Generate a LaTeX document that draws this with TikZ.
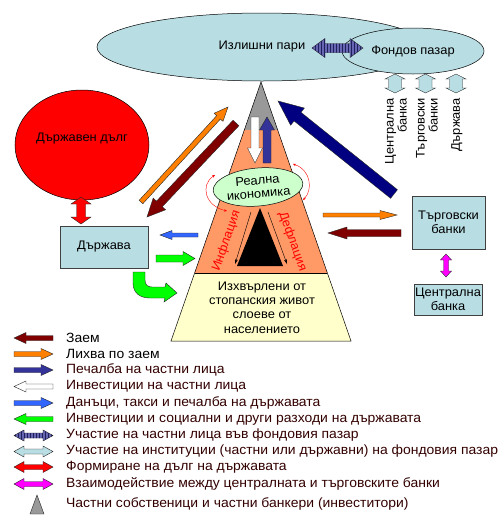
\documentclass[tikz,border=0pt]{standalone}
\usepackage{fontspec}
\setmainfont{Liberation Sans}[FakeStretch=1.04]
\usetikzlibrary{calc,shapes.geometric,patterns,arrows.meta}
\definecolor{aqua}{HTML}{B8DDE3}
\definecolor{salmon}{HTML}{FF9966}
\definecolor{cream}{HTML}{FFFFCC}
\definecolor{pgrey}{HTML}{999999}
\definecolor{mint}{HTML}{CCFFCC}
\definecolor{maroon}{HTML}{800000}
\definecolor{orng}{HTML}{FF8000}
\definecolor{indig}{HTML}{333399}
\definecolor{navyb}{HTML}{000080}
\definecolor{royal}{HTML}{3366FF}
\definecolor{lime}{HTML}{00FF00}
\definecolor{magen}{HTML}{FF00FF}
\definecolor{legtext}{HTML}{330000}
\newcommand{\sarr}[6]{%
  \coordinate (hb) at ($(#3)!#6!(#2)$);
  \path[arr,#1] ($(#2)!#4!90:(#3)$) -- ($(hb)!#4!90:(#3)$) -- ($(hb)!#5!90:(#3)$) -- (#3)
    -- ($(hb)!#5!-90:(#3)$) -- ($(hb)!#4!-90:(#3)$) -- ($(#2)!#4!-90:(#3)$) -- cycle;}
\newcommand{\darr}[6]{%
  \coordinate (ha) at ($(#2)!#6!(#3)$);
  \coordinate (hb) at ($(#3)!#6!(#2)$);
  \path[arr,#1] (#2) -- ($(ha)!#5!90:(#3)$) -- ($(ha)!#4!90:(#3)$) -- ($(hb)!#4!90:(#3)$)
    -- ($(hb)!#5!90:(#3)$) -- (#3) -- ($(hb)!#5!-90:(#3)$) -- ($(hb)!#4!-90:(#3)$)
    -- ($(ha)!#4!-90:(#3)$) -- ($(ha)!#5!-90:(#3)$) -- cycle;}
\begin{document}
\begin{tikzpicture}[x=1pt,y=-1pt,font=\fontsize{12.4}{14.3}\selectfont,
  arr/.style={draw=black!85,line width=0.4pt,line join=miter},
  hatch/.style={fill=indig!75,postaction={pattern=vertical lines,pattern color=indig!60!black}},
  fmaroon/.style={fill=maroon}, forng/.style={fill=orng}, findig/.style={fill=indig},
  fwhite/.style={fill=white}, froyal/.style={fill=royal}, flime/.style={fill=lime},
  faqua/.style={fill=aqua}, fred/.style={fill=red}, fmagen/.style={fill=magen},
  boxa/.style={draw=black!75,line width=0.5pt,fill=aqua,align=center,inner sep=1pt},
  ell/.style={ellipse,draw=black,line width=0.5pt,inner sep=0pt,align=center},
  vlab/.style={rotate=90,anchor=east,align=right,inner sep=0pt,font=\fontsize{12.4}{13}\selectfont},
  thinarr/.style={-{Stealth[length=5pt,width=3pt]},line width=0.4pt},
  redarc/.style={{Stealth[length=3pt,width=2.5pt]}-{Stealth[length=3pt,width=2.5pt]},red,line width=0.4pt},
  legt/.style={anchor=west,inner sep=0pt,text=legtext,font=\fontsize{13.4}{15}\selectfont}]
\useasboundingbox (0,0) rectangle (499,528);
\fill[white] (0,0) rectangle (499,528);

% ellipses at the top
\node[ell,fill=aqua,minimum width=330pt,minimum height=68pt] (money) at (262,47) {Излишни пари};
\node[ell,fill=aqua,minimum width=142pt,minimum height=46pt] (market) at (413,51) {Фондов пазар};
\coordinate (mA) at (312,48); \coordinate (mB) at (363,48);
\darr{hatch}{mA}{mB}{4.5pt}{9.5pt}{13pt}

% three small arrows to the market
\foreach \n/\x in {1/395,2/425.5,3/456}{
  \coordinate (sa\n) at (\x,74); \coordinate (sb\n) at (\x,93);
  \darr{faqua}{sa\n}{sb\n}{6.5pt}{10pt}{5pt}}
\node[vlab] (lcb) at (396,98) {Централна\\банка};
\node[vlab] (ltb) at (427,98) {Търговски\\банки};
\node[vlab] (lst) at (457,98) {Държава};

% pyramid
\coordinate (apex) at (261,82); \coordinate (bl) at (171,341); \coordinate (br) at (351,341);
\coordinate (g1) at ($(apex)!0.1853!(bl)$); \coordinate (g2) at ($(apex)!0.1853!(br)$);
\coordinate (s1) at ($(apex)!0.7375!(bl)$); \coordinate (s2) at ($(apex)!0.7375!(br)$);
\fill[pgrey] (apex) -- (g2) -- (g1) -- cycle;
\fill[salmon] (g1) -- (g2) -- (s2) -- (s1) -- cycle;
\fill[cream] (s1) -- (s2) -- (br) -- (bl) -- cycle;
\draw[line width=0.5pt] (s1) -- (s2);
\draw[line width=0.5pt,line join=miter] (apex) -- (br) -- (bl) -- cycle;
\fill[black] (260,208) -- (283,266) -- (237,266) -- cycle;
\coordinate (ia) at (251,212); \coordinate (ib) at (235,264);
\coordinate (da) at (268,212); \coordinate (db) at (287,264);
\draw[thinarr] (ia) -- (ib);
\draw[thinarr] (da) -- (db);
\node[red,rotate=70.6,inner sep=0pt] (infl) at (226.5,241) {Инфлация};
\node[red,rotate=-70.6,inner sep=0pt] (defl) at (292.5,241.5) {Дефлация};
\node[inner sep=0pt,align=center] (poor) at (262,307.5) {Изхвърлени от\\стопанския живот\\слоеве от\\населението};

% investment arrows in the pyramid
\coordinate (wA) at (255,117); \coordinate (wB) at (255,163);
\sarr{fwhite}{wA}{wB}{4pt}{7.5pt}{15pt}
\coordinate (pA) at (267,163); \coordinate (pB) at (267,117);
\sarr{findig}{pA}{pB}{4pt}{7.5pt}{13pt}

% real economy
\node[ell,fill=mint,rotate=5,minimum width=90pt,minimum height=38pt,font=\fontsize{12.4}{13.5}\selectfont] (real) at (258,187) {Реална\\икономика};
\draw[redarc] (215,175) .. controls (200,185) and (205,206) .. (227,211);
\draw[redarc] (293,164) .. controls (311,170) and (313,190) .. (303,200);

% state side
\node[ell,fill=red,minimum width=134pt,minimum height=110pt] (debt) at (82,145) {};
\node[inner sep=0pt] (debtt) at (82,139) {Държавен дълг};
\node[boxa,minimum width=88pt,minimum height=42pt] (state) at (104,247) {Държава};
\coordinate (rA) at (81,197); \coordinate (rB) at (81,224);
\darr{fred}{rA}{rB}{4.5pt}{10pt}{7pt}
\coordinate (tA) at (198,235); \coordinate (tB) at (160,235);
\sarr{froyal}{tA}{tB}{2pt}{4.5pt}{12pt}
\coordinate (gA) at (156,258.5); \coordinate (gB) at (195,258.5);
\sarr{flime}{gA}{gB}{3.5pt}{7pt}{12pt}
\path[arr,fill=lime] (133,272) -- (133,283) .. controls (133,293) and (140,298) .. (150,298)
  -- (165,298) -- (164,302) -- (177,293) -- (166,283) -- (165,287) -- (152,287)
  .. controls (148,287) and (145,285) .. (145,280) -- (145,272) -- cycle;
\coordinate (oA) at (141,202); \coordinate (oB) at (228,107);
\sarr{forng}{oA}{oB}{2.5pt}{6pt}{14pt}
\coordinate (lA) at (236,123); \coordinate (lB) at (147,217);
\sarr{fmaroon}{lA}{lB}{4pt}{8.5pt}{18pt}

% banks side
\node[boxa,minimum width=73pt,minimum height=53pt] (cbank) at (448.5,222.5) {Търговски\\банки};
\node[boxa,minimum width=64pt,minimum height=31pt] (centr) at (448,299.5) {Централна\\банка};
\coordinate (nA) at (394,194); \coordinate (nB) at (278,101);
\sarr{fill=navyb}{nA}{nB}{5.5pt}{11pt}{25pt}
\coordinate (o2A) at (323,215); \coordinate (o2B) at (397,215);
\sarr{forng}{o2A}{o2B}{2pt}{4.5pt}{17pt}
\coordinate (l2A) at (401,233); \coordinate (l2B) at (328,233);
\sarr{fmaroon}{l2A}{l2B}{3.5pt}{6pt}{19pt}
\coordinate (kA) at (446,254); \coordinate (kB) at (446,277);
\darr{fmagen}{kA}{kB}{2.5pt}{5.5pt}{6pt}

% legend
\foreach \n/\y/\a/\b/\s in {1/338/53/14/fmaroon,2/354/14/53/forng,3/370/14/53/findig,4/386.5/53/14/fwhite,5/403/14/53/froyal,6/419/53/14/flime}{
  \coordinate (la\n) at (\a,\y); \coordinate (lb\n) at (\b,\y);
  \sarr{\s}{la\n}{lb\n}{2.5pt}{5.5pt}{12pt}}
\foreach \n/\y/\s in {7/435.5/hatch,8/451.5/faqua,9/467/fred,10/484/fmagen}{
  \coordinate (la\n) at (14,\y); \coordinate (lb\n) at (53,\y);
  \darr{\s}{la\n}{lb\n}{2.5pt}{5.5pt}{10pt}}
\path[arr,fill=pgrey] (37,495) -- (44,514) -- (30,514) -- cycle;
\node[legt,text=black] (t1) at (66,338) {Заем};
\node[legt,text=black] (t2) at (66,354) {Лихва по заем};
\node[legt] (t3) at (66,370) {Печалба на частни лица};
\node[legt] (t4) at (66,386.5) {Инвестиции на частни лица};
\node[legt] (t5) at (66,403) {Данъци, такси и печалба на държавата};
\node[legt] (t6) at (66,419) {Инвестиции и социални и други разходи на държавата};
\node[legt] (t7) at (66,435.5) {Участие на частни лица във фондовия пазар};
\node[legt] (t8) at (66,451.5) {Участие на институции (частни или държавни) на фондовия пазар};
\node[legt] (t9) at (66,467) {Формиране на дълг на държавата};
\node[legt] (t10) at (66,484) {Взаимодействие между централната и търговските банки};
\node[legt] (t11) at (66,504) {Частни собственици и частни банкери (инвеститори)};
\end{tikzpicture}
\end{document}
